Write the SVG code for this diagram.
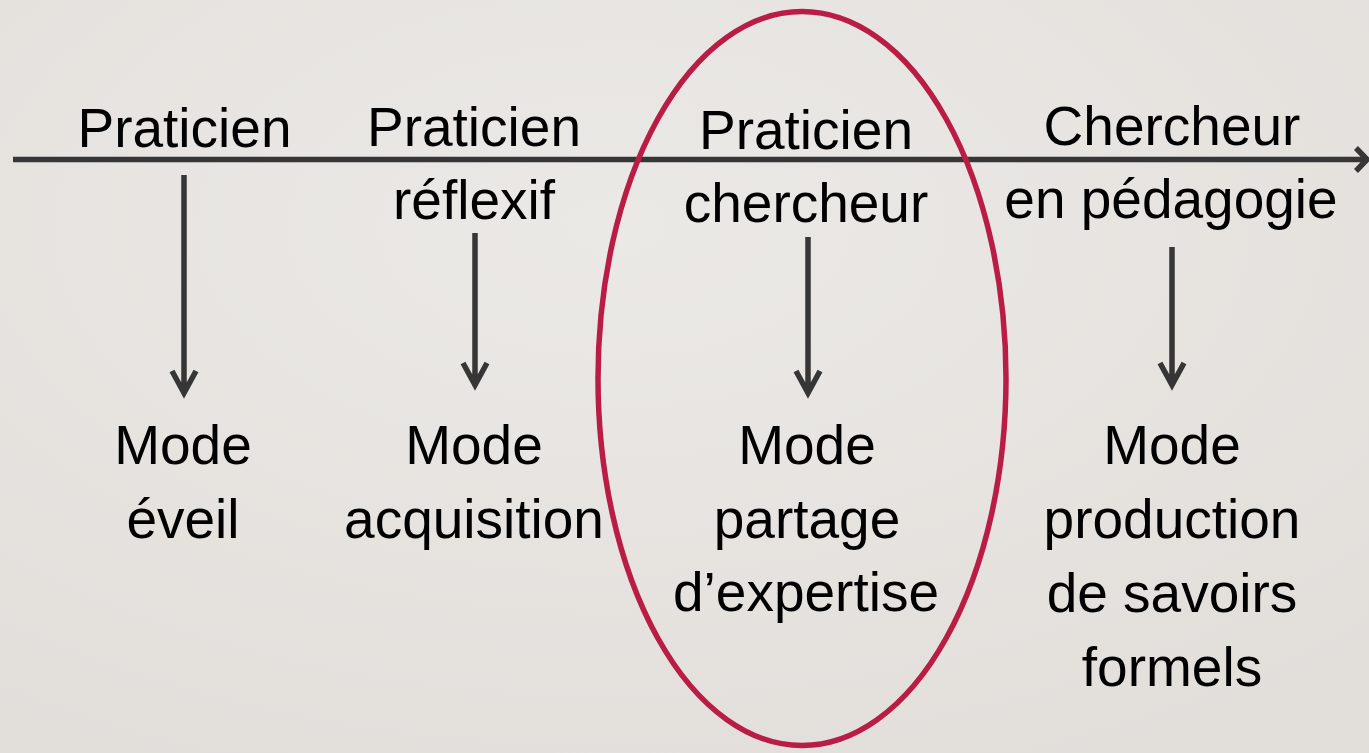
<svg xmlns="http://www.w3.org/2000/svg" width="1369" height="753" viewBox="0 0 1369 753">
<defs>
<radialGradient id="bg" cx="0.45" cy="0.3" r="0.9">
<stop offset="0" stop-color="#ebe9e6"/>
<stop offset="1" stop-color="#e1ddd9"/>
</radialGradient>
<style>
.t{font-family:"Liberation Sans",Arial,sans-serif;font-size:55px;fill:#000;text-anchor:middle}
.c{fill:none;stroke:#363636;stroke-width:5.5;stroke-linejoin:miter}
.e{fill:none;stroke:#b91d45;stroke-width:5.5}
</style>
</defs>
<rect width="1369" height="753" fill="url(#bg)"/>
<g id="connectors">
<path class="c" d="M13 159.5 H1366 M1356 148 L1367 159.5 L1356 171"/>
<path class="c" d="M184 175 V392 M172 371 L184 393 L196 371"/>
<path class="c" d="M475 233 V384 M463 363 L475 385 L487 363"/>
<path class="c" d="M808 237 V392 M796 371 L808 393 L820 371"/>
<path class="c" d="M1172 247 V384 M1160 363 L1172 385 L1184 363"/>
</g>
<g id="highlight">
<ellipse class="e" cx="802" cy="378.5" rx="204" ry="367"/>
</g>
<g id="node-praticien">
<text class="t" x="184.5" y="147">Praticien</text>
</g>
<g id="node-praticien-reflexif">
<text class="t" x="474" y="146">Praticien</text>
<text class="t" x="474" y="219">réflexif</text>
</g>
<g id="node-praticien-chercheur">
<text class="t" x="806" y="149">Praticien</text>
<text class="t" x="806" y="222">chercheur</text>
</g>
<g id="node-chercheur-pedagogie">
<text class="t" x="1172" y="145">Chercheur</text>
<text class="t" x="1171" y="218">en pédagogie</text>
</g>
<g id="node-mode-eveil">
<text class="t" x="183" y="464">Mode</text>
<text class="t" x="183" y="538">éveil</text>
</g>
<g id="node-mode-acquisition">
<text class="t" x="474" y="464">Mode</text>
<text class="t" x="474" y="538">acquisition</text>
</g>
<g id="node-mode-partage">
<text class="t" x="807" y="464">Mode</text>
<text class="t" x="807" y="538">partage</text>
<text class="t" x="806" y="611">d’expertise</text>
</g>
<g id="node-mode-production">
<text class="t" x="1172" y="464">Mode</text>
<text class="t" x="1172" y="538">production</text>
<text class="t" x="1172" y="612">de savoirs</text>
<text class="t" x="1172" y="686">formels</text>
</g>
</svg>
